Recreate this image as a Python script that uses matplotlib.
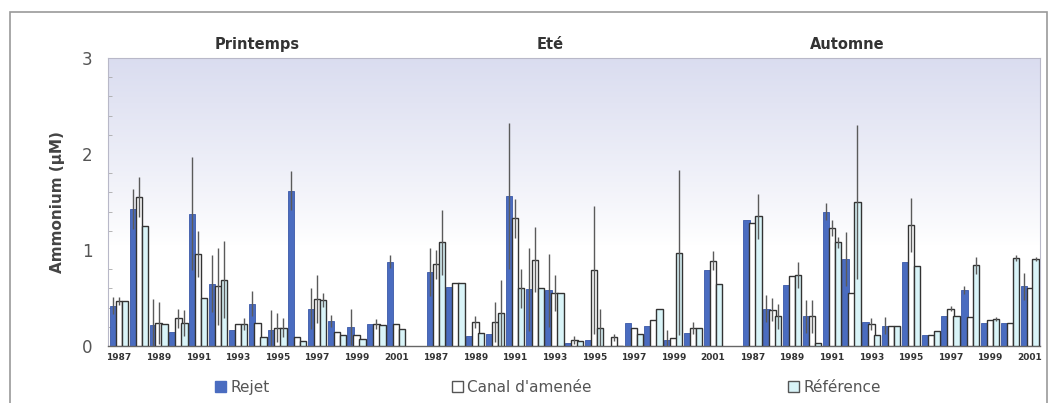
import numpy as np
import matplotlib
matplotlib.use("Agg")
from matplotlib import pyplot as plt
from matplotlib.patches import Patch, Rectangle

seasons = ["Printemps", "Eté", "Automne"]
years = list(range(1987, 2002))

# Ammonium (µM), one list per season, one value per year
rejet_p = [0.42, 1.43, 0.22, 0.15, 1.38, 0.65, 0.17, 0.44, 0.17, 1.62, 0.39, 0.26, 0.20, 0.23, 0.88]
canal_p = [0.47, 1.55, 0.24, 0.29, 0.96, 0.62, 0.23, 0.24, 0.19, 0.09, 0.49, 0.15, 0.11, 0.23, 0.23]
ref_p = [0.47, 1.25, 0.23, 0.24, 0.50, 0.69, 0.23, 0.09, 0.19, 0.05, 0.48, 0.11, 0.07, 0.22, 0.18]
rejet_p_err = [0.09, 0.21, 0.27, 0.00, 0.59, 0.30, 0.00, 0.13, 0.21, 0.20, 0.21, 0.06, 0.19, 0.00, 0.07]
canal_p_err = [0.04, 0.21, 0.22, 0.10, 0.24, 0.40, 0.00, 0.00, 0.15, 0.00, 0.25, 0.00, 0.00, 0.05, 0.00]
ref_p_err = [0.00, 0.00, 0.00, 0.14, 0.00, 0.40, 0.06, 0.00, 0.10, 0.00, 0.07, 0.00, 0.00, 0.00, 0.00]

rejet_e = [0.77, 0.61, 0.10, 0.13, 1.56, 0.59, 0.58, 0.03, 0.06, 0.00, 0.24, 0.21, 0.06, 0.14, 0.79]
canal_e = [0.85, 0.66, 0.25, 0.25, 1.33, 0.90, 0.55, 0.06, 0.79, 0.09, 0.19, 0.27, 0.08, 0.19, 0.89]
ref_e = [1.08, 0.66, 0.14, 0.34, 0.60, 0.60, 0.55, 0.05, 0.19, 0.00, 0.13, 0.39, 0.97, 0.19, 0.65]
rejet_e_err = [0.25, 0.00, 0.00, 0.00, 0.76, 0.43, 0.38, 0.00, 0.00, 0.00, 0.00, 0.00, 0.11, 0.00, 0.00]
canal_e_err = [0.15, 0.00, 0.06, 0.21, 0.20, 0.34, 0.19, 0.04, 0.67, 0.04, 0.00, 0.00, 0.00, 0.06, 0.10]
ref_e_err = [0.34, 0.00, 0.00, 0.35, 0.20, 0.00, 0.00, 0.00, 0.20, 0.00, 0.00, 0.00, 0.86, 0.00, 0.00]

rejet_a = [1.31, 0.39, 0.64, 0.31, 1.40, 0.91, 0.25, 0.21, 0.88, 0.11, 0.31, 0.58, 0.24, 0.24, 0.62]
canal_a = [1.28, 0.38, 0.73, 0.31, 1.23, 0.55, 0.23, 0.21, 1.26, 0.11, 0.39, 0.30, 0.27, 0.24, 0.60]
ref_a = [1.35, 0.31, 0.74, 0.03, 1.08, 1.50, 0.11, 0.21, 0.83, 0.16, 0.31, 0.84, 0.28, 0.92, 0.91]
rejet_a_err = [0.00, 0.14, 0.00, 0.17, 0.09, 0.28, 0.00, 0.09, 0.00, 0.00, 0.00, 0.04, 0.00, 0.00, 0.14]
canal_a_err = [0.00, 0.12, 0.00, 0.17, 0.08, 0.00, 0.06, 0.00, 0.28, 0.00, 0.03, 0.00, 0.00, 0.00, 0.00]
ref_a_err = [0.23, 0.13, 0.14, 0.00, 0.06, 0.80, 0.00, 0.00, 0.00, 0.00, 0.00, 0.09, 0.02, 0.03, 0.02]

rejet = rejet_p + rejet_e + rejet_a
canal = canal_p + canal_e + canal_a
ref = ref_p + ref_e + ref_a
rejet_err = rejet_p_err + rejet_e_err + rejet_a_err
canal_err = canal_p_err + canal_e_err + canal_a_err
ref_err = ref_p_err + ref_e_err + ref_a_err

# one empty slot between seasons
n = len(years)
x = np.concatenate([s * (n + 1) + np.arange(n) for s in range(len(seasons))])

fig = plt.figure(figsize=(10.48, 4.03), dpi=100)
fig.patches.append(Rectangle((0.0095, -0.01), 0.99, 0.98, transform=fig.transFigure,
                             fill=False, edgecolor="#9a9a9a", lw=1.2))
ax = fig.add_axes([0.103, 0.1414, 0.889, 0.7146])

# lavender-to-white background gradient
grad = np.ones((256, 1, 4))
t = np.linspace(0, 1, 256)
fade = np.clip((t - 0.35) / 0.65, 0, 1) ** 0.9
top = np.array([0.855, 0.865, 0.94])
for i in range(3):
    grad[:, 0, i] = 1 - (1 - top[i]) * fade
ax.imshow(grad, extent=[-0.56, 46.5, 0, 3], origin="lower", aspect="auto", zorder=0)

w = 0.32
style = dict(ecolor="#5a5a5a", elinewidth=1.0, capsize=0)
ax.bar(x - 0.3, rejet, w, color="#4a6cc0", edgecolor="#3a58a8", lw=0.6,
       yerr=rejet_err, error_kw=style, zorder=2)
ax.bar(x, canal, w, color="white", edgecolor="#333333", lw=1.0,
       yerr=canal_err, error_kw=style, zorder=3)
ax.bar(x + 0.3, ref, w, color="#d9f4f8", edgecolor="#333333", lw=1.0,
       yerr=ref_err, error_kw=style, zorder=4)

ax.set_xlim(-0.56, 46.5)
ax.set_ylim(0, 3)
ax.set_yticks([0, 1, 2, 3])
ax.set_yticks(np.arange(0, 3.01, 0.2), minor=True)
ax.tick_params(axis="y", which="major", length=0, labelsize=12, labelcolor="#555555", pad=11)
ax.tick_params(axis="y", which="minor", length=3, direction="in", color="#aaaaaa")

odd = [i for i, y in enumerate(years) if y % 2 == 1]
ax.set_xticks([x[s * n + i] for s in range(len(seasons)) for i in odd])
ax.set_xticklabels([str(years[i]) for s in range(len(seasons)) for i in odd],
                   fontsize=6.5, fontweight="bold", color="#333333")
ax.tick_params(axis="x", length=0, pad=5)

for side in ["left", "top", "right"]:
    ax.spines[side].set_color("#b8b8c8")
    ax.spines[side].set_linewidth(0.8)
ax.spines["bottom"].set_color("#666666")
ax.spines["bottom"].set_linewidth(1.0)

ax.set_ylabel("Ammonium (µM)", fontsize=11, fontweight="bold", color="#444444", labelpad=12)

for s, name in enumerate(seasons):
    xc = [7.0, 21.8, 36.8][s]
    ax.text(xc, 3.06, name, ha="center", va="bottom", fontsize=10.5,
            fontweight="bold", color="#333333")

handles = [
    Patch(facecolor="#4a6cc0", edgecolor="#4a6cc0", label="Rejet"),
    Patch(facecolor="white", edgecolor="#555555", label="Canal d'amenée"),
    Patch(facecolor="#d9f4f8", edgecolor="#555555", label="Référence"),
]
for h, xpos in zip(handles, [0.192, 0.418, 0.739]):
    fig.legend(handles=[h], loc="center left", bbox_to_anchor=(xpos, 0.038), frameon=False,
               fontsize=11, handlelength=0.7, handleheight=0.7, handletextpad=0.3,
               labelcolor="#555555")

fig.savefig("out.png", dpi=100)
